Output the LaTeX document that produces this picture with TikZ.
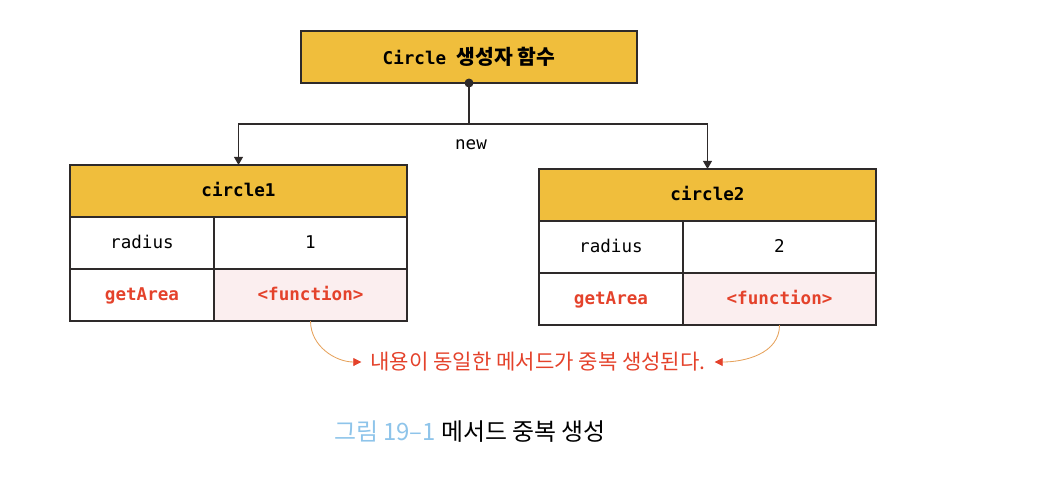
\documentclass[tikz,border=0pt]{standalone}
\usepackage{fontspec}
\setmonofont{DejaVu Sans Mono}
\newfontfamily\kr{Noto Sans CJK KR}
\usepackage{tikz}
\usetikzlibrary{arrows.meta,positioning,calc}

\definecolor{headyellow}{HTML}{F0BE3C}
\definecolor{fnpink}{HTML}{FBEEEF}
\definecolor{msgred}{HTML}{E4422B}
\definecolor{curveorange}{HTML}{E6A25C}
\definecolor{capblue}{HTML}{8EC4EA}
\definecolor{edge}{HTML}{2E2A2A}

\tikzset{
  cell/.style={draw=edge, line width=0.8pt, outer sep=0pt, inner sep=0pt,
    minimum height=1.3cm, text height=1.95ex, text depth=0.1ex,
    font=\ttfamily\fontsize{12.5}{15}\selectfont},
  headcell/.style={cell, fill=headyellow, minimum width=8.425cm,
    font=\ttfamily\bfseries\fontsize{12.5}{15}\selectfont},
  keycell/.style={cell, minimum width=3.6cm},
  valcell/.style={cell, minimum width=4.825cm},
  fncell/.style={valcell, fill=fnpink},
  redtext/.style={text=msgred, font=\ttfamily\bfseries\fontsize{12.5}{15}\selectfont},
  link/.style={draw=edge, line width=0.8pt, -{Triangle[length=2mm,width=2.2mm]}},
  note/.style={draw=curveorange, line width=0.6pt,
    -{Triangle[length=2mm,width=2mm,color=msgred]}}
}

\begin{document}
\begin{tikzpicture}[x=0.025cm,y=-0.025cm]
  \useasboundingbox (0,0) rectangle (1058,476);

  % constructor
  \node[headcell, minimum width=8.4cm, text height=2.6ex, text depth=0ex] (ctor) at (469,57)
    {Circle {\kr\fontsize{14.5}{16}\selectfont 생성자 함수}};

  % circle1
  \node[headcell] (c1) at (238.5,191) {circle1};
  \node[keycell, anchor=north west] (k1a) at (c1.south west) {radius};
  \node[valcell, anchor=north west] (v1a) at (k1a.north east) {1};
  \node[keycell, anchor=north west, redtext] (k1b) at (k1a.south west) {getArea};
  \node[fncell, anchor=north west, redtext] (v1b) at (k1b.north east) {<function>};

  % circle2
  \node[headcell] (c2) at (707.5,195) {circle2};
  \node[keycell, anchor=north west] (k2a) at (c2.south west) {radius};
  \node[valcell, anchor=north west] (v2a) at (k2a.north east) {2};
  \node[keycell, anchor=north west, redtext] (k2b) at (k2a.south west) {getArea};
  \node[fncell, anchor=north west, redtext] (v2b) at (k2b.north east) {<function>};

  % new
  \coordinate (fork) at (469,124);
  \fill[edge] (ctor.south) circle (3.2pt);
  \draw[line width=0.8pt, draw=edge] (ctor.south) -- (fork);
  \draw[link] (fork) -| (c1.north);
  \draw[link] (fork) -| (c2.north);
  \node[font=\ttfamily\fontsize{12.5}{15}\selectfont] (new) at (471,145) {new};

  % duplicated methods
  \node[text=msgred, font=\kr\fontsize{15}{18}\selectfont, inner xsep=0.22cm]
    (msg) at (538,362) {내용이 동일한 메서드가 중복 생성된다.};
  \draw[note] (v1b.south) to[out=-90, in=180] (msg.west);
  \draw[note] (v2b.south) to[out=-90, in=0] (msg.east);

  % caption
  \node[font=\kr\fontsize{17}{20}\selectfont] (cap) at (470,432)
    {{\color{capblue}그림 19–1} 메서드 중복 생성};
\end{tikzpicture}
\end{document}
